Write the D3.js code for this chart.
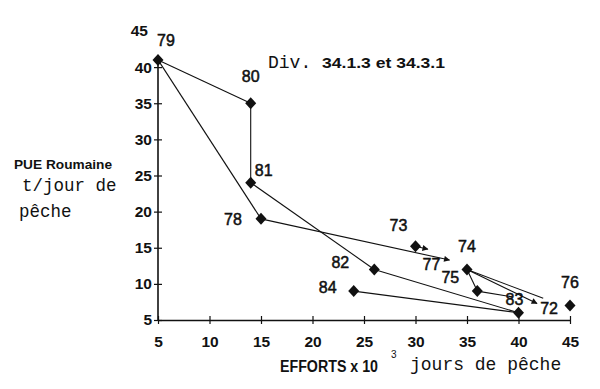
<!DOCTYPE html>
<html><head><meta charset="utf-8">
<script src="https://cdn.jsdelivr.net/npm/d3@7"></script>
<style>
html,body{margin:0;padding:0;background:#fff;}
svg{display:block;}
</style></head>
<body><svg id="c" width="600" height="389"></svg>
<script>
// ---- data ----
const xTicks = [5,10,15,20,25,30,35,40,45];
const yTicks = [5,10,15,20,25,30,35,40,45];
// plotted years (diamond markers)
const pointYears  = ["79","80","81","78","73","82","84","74","75","83","76"];
const pointEffort = [5,   14,  14,  15,  30,  26,  24,  35,  36,  40,  45];
const pointPue    = [41,  35,  24,  19,  15.2,12,  9,   12,  9,   6,   7];
// arrow tips / line ends (no marker)
const tipNames  = ["77",  "72",  "73b", "e1",  "e2"];
const tipEffort = [33.3,  41.8,  31.2,  42.4,  39.4];
const tipPue    = [13.3,  7.3,   14.8,  8.0,   8.2];
const arrowTips = ["77","72","73b"];
// connecting lines
const links = [["79","80"],["80","81"],["79","78"],["81","82"],["78","77"],["73","73b"],
               ["74","e1"],["74","72"],["74","75"],["75","e2"],["82","83"],["84","83"]];
// label layout offsets (px) for year labels
const labelOffsets = {"79":[8,-19],"80":[0,-27],"81":[13,-12],"78":[-28,1],"73":[-17,-21],
  "82":[-34,-7],"84":[-26,-4],"74":[0,-23],"75":[-27,-14],"83":[-4,-13],"76":[0,-23],
  "77":[-18,4],"72":[12,5]};

// ---- chart ----
const svg = d3.select("#c");
const ink = "#111";
const x = d3.scaleLinear().domain([5,45]).range([158,570]);
const y = d3.scaleLinear().domain([5,45]).range([320,31]);

const pos = {};
pointYears.forEach((n,i)=>pos[n]=[pointEffort[i],pointPue[i]]);
tipNames.forEach((n,i)=>pos[n]=[tipEffort[i],tipPue[i]]);

const defs = svg.append("defs");
defs.append("marker").attr("id","ah").attr("viewBox","0 0 10 10").attr("refX",9).attr("refY",5)
  .attr("markerWidth",7).attr("markerHeight",6).attr("markerUnits","userSpaceOnUse").attr("orient","auto")
  .append("path").attr("d","M0,0L10,5L0,10Z").attr("fill",ink);

const sans = "Liberation Sans, Arial, sans-serif";
const mono = "Liberation Mono, Courier New, monospace";

// x axis
const xa = svg.append("g").attr("transform",`translate(0,${y(5)})`)
  .call(d3.axisBottom(x).tickValues(xTicks).tickSize(0).tickPadding(18));
xa.select(".domain").attr("stroke",ink).attr("stroke-width",1.6);
xa.selectAll(".tick line").attr("y1",-4).attr("y2",4).attr("stroke",ink).attr("stroke-width",1.2);
xa.selectAll(".tick text").attr("font-family",sans)
  .attr("font-weight","bold").attr("font-size",15.5).attr("fill",ink).attr("dy","0.6em");

// y axis
const ya = svg.append("g").attr("transform",`translate(${x(5)},0)`)
  .call(d3.axisLeft(y).tickValues(yTicks).tickSize(0).tickPadding(6));
ya.select(".domain").remove();
ya.selectAll(".tick line").attr("x1",-4).attr("x2",4).attr("stroke",ink).attr("stroke-width",1.2)
  .filter(d=>d===45).remove();
ya.selectAll(".tick text").attr("font-family",sans)
  .attr("font-weight","bold").attr("font-size",15.5).attr("fill",ink);
ya.selectAll(".tick").filter(d=>d===45).select("text").attr("dx",-4);
svg.append("line").attr("x1",x(5)).attr("x2",x(5)).attr("y1",y(5)).attr("y2",y(41.5))
  .attr("stroke",ink).attr("stroke-width",1.6);

// links
svg.append("g").selectAll("line").data(links).join("line")
  .attr("x1",d=>x(pos[d[0]][0])).attr("y1",d=>y(pos[d[0]][1]))
  .attr("x2",d=>x(pos[d[1]][0])).attr("y2",d=>y(pos[d[1]][1]))
  .attr("stroke",ink).attr("stroke-width",1.1)
  .attr("marker-end",d=>arrowTips.includes(d[1])?"url(#ah)":null);

// diamond markers
svg.append("g").selectAll("path").data(pointYears).join("path")
  .attr("transform",d=>`translate(${x(pos[d][0])},${y(pos[d][1])})`)
  .attr("d","M0,-6L5.5,0L0,6L-5.5,0Z").attr("fill",ink);

// year labels
const labelNames = Object.keys(labelOffsets);
svg.append("g").selectAll("text").data(labelNames).join("text")
  .attr("x",d=>x(pos[d][0])+labelOffsets[d][0])
  .attr("y",d=>y(pos[d][1])+labelOffsets[d][1])
  .attr("text-anchor","middle").attr("dominant-baseline","central")
  .attr("font-family",sans).attr("font-size",16).attr("fill",ink)
  .attr("stroke",ink).attr("stroke-width",0.5)
  .text(d=>d);

// titles / annotations
const t1 = svg.append("text").attr("x",268).attr("y",68).attr("fill",ink);
t1.append("tspan").attr("font-family",mono).attr("font-size",18).text("Div. ");
t1.append("tspan").attr("font-family",sans).attr("font-weight","bold").attr("font-size",15)
  .attr("textLength",123).attr("lengthAdjust","spacingAndGlyphs").text("34.1.3 et 34.3.1");

svg.append("text").attr("x",14).attr("y",169).attr("font-family",sans)
  .attr("font-weight","bold").attr("font-size",13).attr("fill",ink)
  .attr("textLength",98).attr("lengthAdjust","spacingAndGlyphs").text("PUE Roumaine");
svg.append("text").attr("x",22).attr("y",191).attr("font-family",mono).attr("font-size",17.5).attr("fill",ink).text("t/jour de");
svg.append("text").attr("x",19).attr("y",217).attr("font-family",mono).attr("font-size",17.5).attr("fill",ink).text("pêche");

svg.append("text").attr("x",280).attr("y",372).attr("font-family",sans).attr("font-weight","bold")
  .attr("font-size",16).attr("fill",ink).attr("textLength",98).attr("lengthAdjust","spacingAndGlyphs")
  .text("EFFORTS x 10");
svg.append("text").attr("x",391).attr("y",358).attr("font-family",sans).attr("font-size",10).attr("fill",ink).text("3");
svg.append("text").attr("x",410).attr("y",370).attr("font-family",mono).attr("font-size",18).attr("fill",ink).text("jours de pêche");
</script></body></html>
